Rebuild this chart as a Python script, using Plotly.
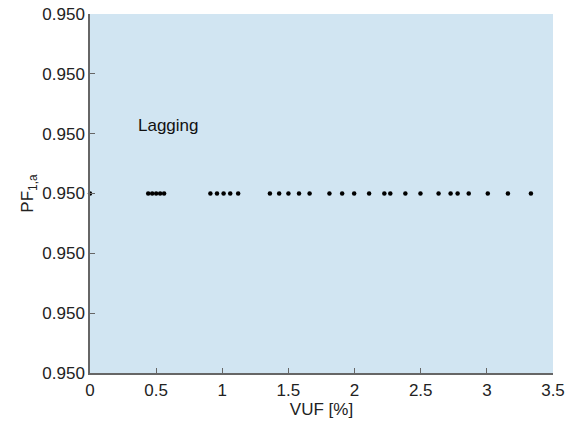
import plotly.graph_objects as go

vuf = [0.0, 0.44, 0.47, 0.50, 0.53, 0.56, 0.91, 0.96, 1.01, 1.06, 1.12,
       1.36, 1.43, 1.50, 1.58, 1.66, 1.81, 1.906, 1.997, 2.11, 2.225, 2.27,
       2.384, 2.498, 2.635, 2.726, 2.779, 2.863, 3.007, 3.159, 3.333]
pf = [0.95] * len(vuf)

y_ticks = [0.9499997, 0.9499998, 0.9499999, 0.95, 0.9500001, 0.9500002, 0.9500003]
y_labels = ["0.950"] * len(y_ticks)
x_ticks = [0, 0.5, 1, 1.5, 2, 2.5, 3, 3.5]
x_labels = ["0", "0.5", "1", "1.5", "2", "2.5", "3", "3.5"]

fig = go.Figure()
fig.add_trace(go.Scatter(x=vuf, y=pf, mode="markers",
                         marker=dict(color="black", size=4.5),
                         cliponaxis=False, showlegend=False))
fig.add_annotation(x=0.35, y=0.950000113, text="Lagging", showarrow=False,
                   xanchor="left", yanchor="middle",
                   font=dict(size=17, color="#111"))

font = "Liberation Sans, Arial, sans-serif"
fig.update_layout(
    width=565, height=423,
    margin=dict(l=90, r=12, t=14, b=50),
    paper_bgcolor="white",
    plot_bgcolor="#d1e5f2",
    font=dict(family=font, size=17, color="#222"),
    xaxis=dict(range=[0, 3.5], tickvals=x_ticks, ticktext=x_labels,
               automargin=False, ticklabelstandoff=1,
               showgrid=False, zeroline=False, showline=True,
               linecolor="#666", linewidth=1.5, ticks="inside",
               ticklen=5, tickcolor="#666",
               title=dict(text="VUF [%]", standoff=4, font=dict(size=17))),
    yaxis=dict(range=[0.9499997, 0.9500003], tickvals=y_ticks,
               ticktext=y_labels, automargin=False,
               showgrid=False, zeroline=False,
               showline=True, linecolor="#666", linewidth=1.5,
               ticks="inside", ticklen=5, tickcolor="#666",
               title=dict(text="PF<sub>1,a</sub>", standoff=4,
                          font=dict(size=17))),
)
fig.write_html("out.html")
